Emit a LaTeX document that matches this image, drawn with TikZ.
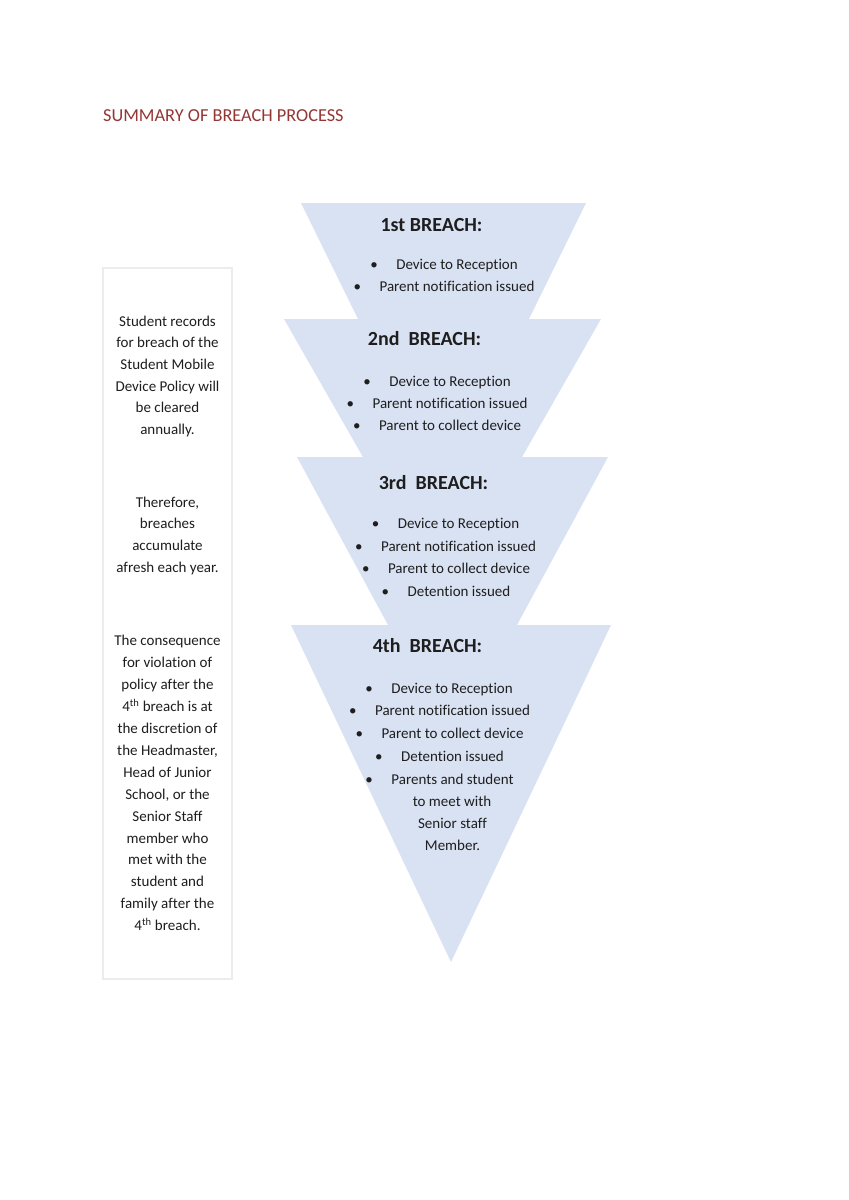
\documentclass[tikz,border=0pt]{standalone}
\usepackage{fontspec}
\setmainfont[Ligatures=NoCommon]{Carlito}
\definecolor{tri}{RGB}{217,226,243}
\definecolor{titlered}{RGB}{148,54,52}
\definecolor{boxgray}{RGB}{236,236,236}
\definecolor{ink}{RGB}{30,30,30}
\tikzset{
  body/.style={inner sep=0pt,text=ink,font=\fontsize{15}{22}\selectfont},
  head/.style={inner sep=0pt,text=ink,font=\bfseries\fontsize{20}{24}\selectfont,anchor=base},
  trifill/.style={fill=tri,draw=none}
}
\newcommand\bitem[4]{%
  \node[body,anchor=base] (#1) at (#2,#3) {#4};
  \node[body,anchor=base] (#1b) at ([xshift=-22pt]#1.base west) {•};
}
\newcommand\pitem[4]{%
  \node[body,anchor=base] (#1) at (#2,#3) {#4};
}
\begin{document}
\begin{tikzpicture}[x=1pt,y=-1pt]
\useasboundingbox[fill=white] (0,0) rectangle (849,1200);

% title
\node[inner sep=0pt,anchor=base west,text=titlered,font=\fontsize{18.3}{22}\selectfont] (title) at (103,121) {SUMMARY OF BREACH PROCESS};

% left box
\draw[boxgray,line width=1.5pt] (103,268) rectangle (232,979);
\node[inner sep=0pt] (box) at (167.5,623.5) {};
\foreach \t/\y [count=\i] in {
  {Student records}/326, {for breach of the}/347.7, {Student Mobile}/369.3,
  {Device Policy will}/391, {be cleared}/412.7, {annually.}/434.3,
  {Therefore,}/507, {breaches}/528.7, {accumulate}/550.3, {afresh each year.}/572,
  {The consequence}/645.7, {for violation of}/667.6, {policy after the}/689.5,
  {4\textsuperscript{th} breach is at}/711.5, {the discretion of}/733.4,
  {the Headmaster,}/755.3, {Head of Junior}/777.2, {School, or the}/799.2,
  {Senior Staff}/821.1, {member who}/843, {met with the}/864.9,
  {student and}/886.9, {family after the}/908.8, {4\textsuperscript{th} breach.}/930.7}
  \node[body,anchor=base] (l\i) at (167.5,\y) {\t};

% triangles (drawn in order, later ones on top)
\fill[trifill] (301,203) -- (586,203) -- (443.5,493) -- cycle;
\node[head] (h1) at (431.5,231.5) {1st BREACH:};
\bitem{a1}{457}{269}{Device to Reception}
\bitem{a2}{457}{291}{Parent notification issued}

\fill[trifill] (284,319) -- (601,319) -- (442.5,596) -- cycle;
\node[head] (h2) at (424.5,345.5) {2nd\ \ BREACH:};
\bitem{b1}{450}{386}{Device to Reception}
\bitem{b2}{450}{408}{Parent notification issued}
\bitem{b3}{450}{430}{Parent to collect device}

\fill[trifill] (297,457) -- (608,457) -- (452.5,744) -- cycle;
\node[head] (h3) at (433.5,489) {3rd\ \ BREACH:};
\bitem{c1}{458.5}{528}{Device to Reception}
\bitem{c2}{458.5}{551}{Parent notification issued}
\bitem{c3}{459}{573}{Parent to collect device}
\bitem{c4}{459}{596}{Detention issued}

\fill[trifill] (291,625) -- (611,625) -- (451,962) -- cycle;
\node[head] (h4) at (427.5,652.5) {4th\ \ BREACH:};
\bitem{d1}{452}{693}{Device to Reception}
\bitem{d2}{452.5}{715.5}{Parent notification issued}
\bitem{d3}{452.5}{738}{Parent to collect device}
\bitem{d4}{452.5}{761}{Detention issued}
\bitem{d5}{452.5}{784}{Parents and student}
\pitem{d6}{452}{806}{to meet with}
\pitem{d7}{452.5}{828}{Senior staff}
\pitem{d8}{452.5}{850}{Member.}
\end{tikzpicture}
\end{document}
